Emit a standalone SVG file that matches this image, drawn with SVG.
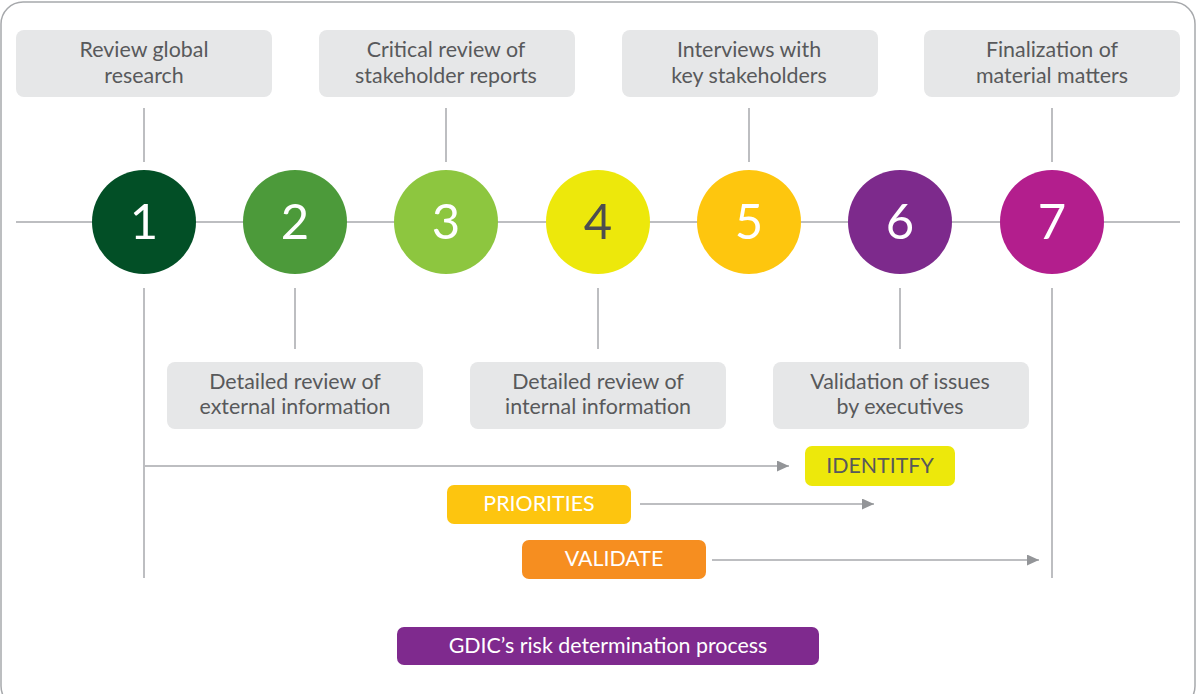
<svg xmlns="http://www.w3.org/2000/svg" width="1196" height="694" viewBox="0 0 1196 694">
<defs>
<style>
.frame{fill:#fff;stroke:#a7a9ac;stroke-width:1.5}
.box{fill:#e6e7e8}
.lbl{font-family:Lato,"Open Sans",sans-serif;font-size:21.4px;fill:#58595b;text-anchor:middle}
.num{font-family:Lato,"Open Sans",sans-serif;font-size:49px;font-weight:400;fill:#fff;text-anchor:middle}
.ln{stroke:#a7a9ac;stroke-width:1.5;fill:none}
.tag{font-family:Lato,"Open Sans",sans-serif;font-size:21.4px;fill:#fff;text-anchor:middle}
</style>
<marker id="ah" viewBox="0 0 12 11" refX="12" refY="5.5" markerWidth="12" markerHeight="11" markerUnits="userSpaceOnUse" orient="auto">
<path d="M0,0 L12,5.5 L0,11 Z" fill="#939598"/>
</marker>
</defs>
<rect class="frame" x="1" y="2" width="1194" height="706" rx="22"/>
<g id="connectors">
<line class="ln" x1="16" y1="222" x2="1180" y2="222"/>
<line class="ln" x1="144" y1="108" x2="144" y2="162"/>
<line class="ln" x1="446" y1="108" x2="446" y2="162"/>
<line class="ln" x1="749" y1="108" x2="749" y2="162"/>
<line class="ln" x1="1052" y1="108" x2="1052" y2="162"/>
<line class="ln" x1="144" y1="288" x2="144" y2="578"/>
<line class="ln" x1="295" y1="288" x2="295" y2="349"/>
<line class="ln" x1="598" y1="288" x2="598" y2="349"/>
<line class="ln" x1="900" y1="288" x2="900" y2="349"/>
<line class="ln" x1="1052" y1="288" x2="1052" y2="578"/>
<line class="ln" x1="145" y1="466" x2="789" y2="466" marker-end="url(#ah)"/>
<line class="ln" x1="640" y1="504" x2="874" y2="504" marker-end="url(#ah)"/>
<line class="ln" x1="712" y1="560" x2="1039" y2="560" marker-end="url(#ah)"/>
</g>
<g id="top1"><rect class="box" x="16" y="30" width="256" height="67" rx="8"/><text class="lbl" x="144" y="57">Review global</text><text class="lbl" x="144" y="83">research</text></g>
<g id="top3"><rect class="box" x="319" y="30" width="256" height="67" rx="8"/><text class="lbl" x="446" y="57">Critical review of</text><text class="lbl" x="446" y="83">stakeholder reports</text></g>
<g id="top5"><rect class="box" x="622" y="30" width="256" height="67" rx="8"/><text class="lbl" x="749" y="57">Interviews with</text><text class="lbl" x="749" y="83">key stakeholders</text></g>
<g id="top7"><rect class="box" x="924" y="30" width="256" height="67" rx="8"/><text class="lbl" x="1052" y="57">Finalization of</text><text class="lbl" x="1052" y="83">material matters</text></g>
<g id="c1"><circle cx="144" cy="222" r="52" fill="#024f26"/><text class="num" x="144" y="239">1</text></g>
<g id="c2"><circle cx="295" cy="222" r="52" fill="#4c9a3a"/><text class="num" x="295" y="239">2</text></g>
<g id="c3"><circle cx="446" cy="222" r="52" fill="#8dc63f"/><text class="num" x="446" y="239">3</text></g>
<g id="c4"><circle cx="598" cy="222" r="52" fill="#ede80b"/><text class="num" x="598" y="239" style="fill:#4d4d4f">4</text></g>
<g id="c5"><circle cx="749" cy="222" r="52" fill="#fec60e"/><text class="num" x="749" y="239">5</text></g>
<g id="c6"><circle cx="900" cy="222" r="52" fill="#7d2a8c"/><text class="num" x="900" y="239">6</text></g>
<g id="c7"><circle cx="1052" cy="222" r="52" fill="#b31e8d"/><text class="num" x="1052" y="239">7</text></g>
<g id="bot2"><rect class="box" x="167" y="362" width="256" height="67" rx="8"/><text class="lbl" x="295" y="389">Detailed review of</text><text class="lbl" x="295" y="414">external information</text></g>
<g id="bot4"><rect class="box" x="470" y="362" width="256" height="67" rx="8"/><text class="lbl" x="598" y="389">Detailed review of</text><text class="lbl" x="598" y="414">internal information</text></g>
<g id="bot6"><rect class="box" x="773" y="362" width="256" height="67" rx="8"/><text class="lbl" x="900" y="389">Validation of issues</text><text class="lbl" x="900" y="414">by executives</text></g>
<g id="identify"><rect x="805" y="446" width="150" height="40" rx="7" fill="#ede80b"/><text class="tag" x="880" y="473" style="fill:#58595b">IDENTITFY</text></g>
<g id="priorities"><rect x="447" y="485" width="184" height="39" rx="7" fill="#fdc50f"/><text class="tag" x="539" y="511">PRIORITIES</text></g>
<g id="validate"><rect x="522" y="540" width="184" height="39" rx="7" fill="#f68e20"/><text class="tag" x="614" y="566">VALIDATE</text></g>
<g id="title"><rect x="397" y="627" width="422" height="38" rx="7" fill="#7f2a8e"/><text class="tag" x="608" y="653">GDIC’s risk determination process</text></g>
</svg>
